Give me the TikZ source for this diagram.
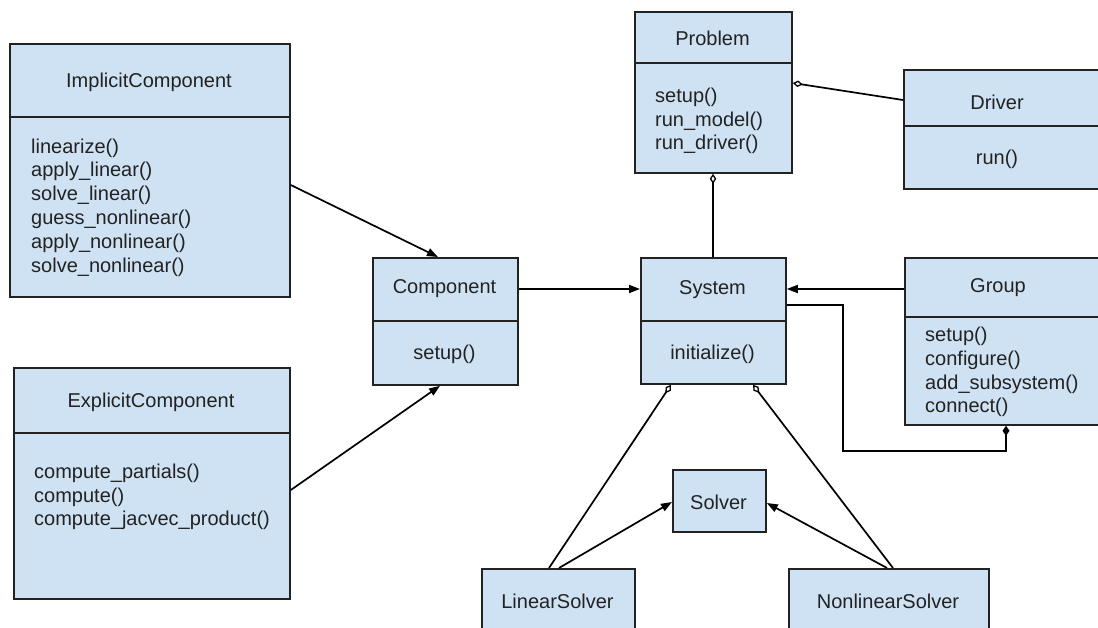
\documentclass[tikz,border=0pt]{standalone}
\usepackage{fontspec}
\setmainfont{Liberation Sans}
\usetikzlibrary{arrows.meta}
\definecolor{clsfill}{HTML}{CFE2F3}
\definecolor{ink}{HTML}{222222}
\tikzset{
  cls/.style={draw=ink, fill=clsfill, line width=1.8pt, rectangle, inner sep=0pt, anchor=north west},
  divider/.style={draw=ink, line width=1.8pt},
  title/.style={text=ink, font=\fontsize{20}{22}\selectfont, inner sep=0pt},
  ops/.style={text=ink, font=\fontsize{20}{23.8}\selectfont, inner sep=0pt, align=left, anchor=west},
  op/.style={text=ink, font=\fontsize{20}{22}\selectfont, inner sep=0pt},
  link/.style={draw=black, line width=1.7pt},
  inherit/.style={link, -{Triangle[length=11pt,width=8pt]}},
  aggr/.style={link, {Diamond[open,length=10pt,width=6.5pt,line width=1.3pt]}-},
  compo/.style={link, {Diamond[length=10pt,width=7pt]}-},
}
\begin{document}
\begin{tikzpicture}[x=1pt,y=-1pt]
\useasboundingbox[fill=white] (0,0) rectangle (1098,628);

% ImplicitComponent
\node[cls, minimum width=280pt, minimum height=253pt] (impl) at (9,43) {};
\draw[divider] (9,117) -- (289,117);
\node[title] (implT) at (149,82) {ImplicitComponent};
\node[ops] (implM) at (31,207.5) {linearize()\\apply\_linear()\\solve\_linear()\\guess\_nonlinear()\\apply\_nonlinear()\\solve\_nonlinear()};

% ExplicitComponent
\node[cls, minimum width=276pt, minimum height=231pt] (expl) at (13,367) {};
\draw[divider] (13,433) -- (289,433);
\node[title] (explT) at (151,402) {ExplicitComponent};
\node[ops] (explM) at (34,497) {compute\_partials()\\compute()\\compute\_jacvec\_product()};

% Component
\node[cls, minimum width=145pt, minimum height=127pt] (comp) at (372,257) {};
\draw[divider] (372,321) -- (517,321);
\node[title] (compT) at (444.5,289) {Component};
\node[op] (compM) at (444.5,354) {setup()};

% System
\node[cls, minimum width=145pt, minimum height=126pt] (sys) at (640,257) {};
\draw[divider] (640,321) -- (785,321);
\node[title] (sysT) at (712.5,290) {System};
\node[op] (sysM) at (712.5,354) {initialize()};

% Problem
\node[cls, minimum width=157pt, minimum height=161pt] (prob) at (634,11) {};
\draw[divider] (634,63) -- (791,63);
\node[title] (probT) at (712.5,38) {Problem};
\node[ops] (probM) at (655,121) {setup()\\run\_model()\\run\_driver()};

% Driver
\node[cls, minimum width=210pt, minimum height=119pt] (drv) at (903,69) {};
\draw[divider] (903,126) -- (1113,126);
\node[title] (drvT) at (997,102) {Driver};
\node[op] (drvM) at (997,159) {run()};

% Group
\node[cls, minimum width=210pt, minimum height=167pt] (grp) at (904,257) {};
\draw[divider] (904,317) -- (1114,317);
\node[title] (grpT) at (998,288) {Group};
\node[ops] (grpM) at (925,372) {setup()\\configure()\\add\_subsystem()\\connect()};

% Solvers
\node[cls, minimum width=93pt, minimum height=62pt] (solv) at (672,469) {};
\node[title] (solvT) at (718.5,502) {Solver};
\node[cls, minimum width=153pt, minimum height=80pt] (lin) at (481,568) {};
\node[title] (linT) at (557.5,601) {LinearSolver};
\node[cls, minimum width=200pt, minimum height=80pt] (nlin) at (788,568) {};
\node[title] (nlinT) at (888,601) {NonlinearSolver};

% Anchor points for the connectors
\coordinate (implOut) at (impl.east |- 0,185);
\coordinate (explOut) at (expl.east |- 0,490);
\coordinate (compTop) at (comp.north -| 438,0);
\coordinate (compBot) at (comp.south -| 440,0);
\coordinate (compOut) at (comp.east |- 0,289);
\coordinate (sysIn) at (sys.west |- 0,289);
\coordinate (sysInR) at (sys.east |- 0,289);
\coordinate (grpOut) at (grp.west |- 0,289);
\coordinate (sysGrp) at (sys.east |- 0,305);
\coordinate (grpBot) at (grp.south -| 1006,0);
\coordinate (sysTop) at (sys.north -| 713,0);
\coordinate (probBot) at (prob.south -| 713,0);
\coordinate (probR) at (prob.east |- 0,83);
\coordinate (drvL) at (drv.west |- 0,100);
\coordinate (sysDL) at (sys.south -| 671,0);
\coordinate (sysDR) at (sys.south -| 753,0);
\coordinate (linA) at (lin.north -| 549,0);
\coordinate (linB) at (lin.north -| 559,0);
\coordinate (nlinA) at (nlin.north -| 893,0);
\coordinate (nlinB) at (nlin.north -| 887,0);
\coordinate (solvL) at (solv.west |- 0,502);
\coordinate (solvR) at (solv.east |- 0,503);

% Inheritance
\draw[inherit] (implOut) -- (compTop);
\draw[inherit] (explOut) -- (compBot);
\draw[inherit] (compOut) -- (sysIn);
\draw[inherit] (grpOut) -- (sysInR);
\draw[inherit] (linB) -- (solvL);
\draw[inherit] (nlinB) -- (solvR);

% Aggregation
\draw[aggr] (probBot) -- (sysTop);
\draw[aggr] (probR) -- (drvL);
\draw[aggr] (sysDL) -- (linA);
\draw[aggr] (sysDR) -- (nlinA);

% Composition
\draw[compo] (grpBot) -- (1006,451) -- (843,451) -- (843,305) -- (sysGrp);
\end{tikzpicture}
\end{document}
